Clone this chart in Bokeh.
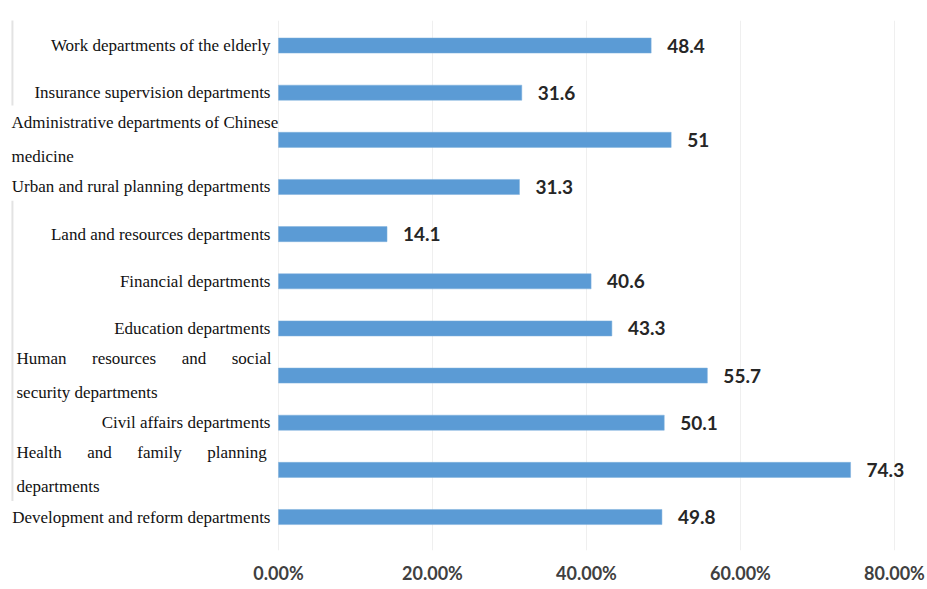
from bokeh.plotting import figure
from bokeh.models import ColumnDataSource, FixedTicker, Range1d, Title
from bokeh.core.properties import value
from bokeh.embed import file_html
from bokeh.resources import INLINE

# ---- data (top to bottom) ----
categories = [
    "Work departments of the elderly",
    "Insurance supervision departments",
    "Administrative departments of Chinese medicine",
    "Urban and rural planning departments",
    "Land and resources departments",
    "Financial departments",
    "Education departments",
    "Human resources and social security departments",
    "Civil affairs departments",
    "Health and family planning departments",
    "Development and reform departments",
]
values = [48.4, 31.6, 51.0, 31.3, 14.1, 40.6, 43.3, 55.7, 50.1, 74.3, 49.8]
value_labels = ["48.4", "31.6", "51", "31.3", "14.1", "40.6", "43.3", "55.7", "50.1", "74.3", "49.8"]
tick_values = [0, 20, 40, 60, 80]
tick_labels = ["0.00%", "20.00%", "40.00%", "60.00%", "80.00%"]

NB = "\u00a0"
gap = NB * 6
wrapped = {
    "Administrative departments of Chinese medicine": ("Administrative departments of Chinese", "medicine", -267),
    "Human resources and social security departments": (gap.join(["Human", "resources", "and", "social"]), "security departments", -262),
    "Health and family planning departments": (gap.join(["Health", "and", "family", "planning"]), "departments", -262),
}

pos = list(range(len(categories)))

bar_src = ColumnDataSource(dict(y=pos, right=values, lab=value_labels))

single = dict(y=[], text=[])
multi = dict(y=[], text=[], yoff=[], xoff=[])
for i, c in enumerate(categories):
    if c in wrapped:
        l1, l2, xo = wrapped[c]
        multi["y"] += [i, i]
        multi["text"] += [l1, l2]
        multi["yoff"] += [-17, 17]
        multi["xoff"] += [xo, xo]
    else:
        single["y"].append(i)
        single["text"].append(c)
single["x"] = [0] * len(single["y"])
multi["x"] = [0] * len(multi["y"])

W, H = 927, 589
p = figure(width=W, height=H, output_backend="svg", toolbar_location=None,
           x_range=Range1d(-36.10, 84.29), y_range=Range1d(10.71, -0.531),
           min_border_left=0, min_border_right=0, min_border_top=20, min_border_bottom=0)
p.outline_line_color = None
p.background_fill_color = "white"
p.border_fill_color = "white"

# left decorative border remnants
p.segment(x0=[-34.55, -34.55], y0=[-0.9, 3.29], x1=[-34.55, -34.55], y1=[1.27, 9.66],
          line_color="#E3E3E3", line_width=2)

p.hbar(y="y", left=0, right="right", height=0.32, source=bar_src,
       fill_color="#5B9BD5", line_color="#7FB0DD", line_width=0.5)

p.text(x="right", y="y", text="lab", source=bar_src, x_offset=16,
       text_align="left", text_baseline="middle",
       text_font=value("Lato"), text_font_style="bold",
       text_font_size="19px", text_color="#262626")

p.text(x="x", y="y", text="text", source=ColumnDataSource(single), x_offset=-8,
       text_align="right", text_baseline="middle",
       text_font=value("Liberation Serif"), text_font_size="17px", text_color="#111111")

p.text(x="x", y="y", text="text", source=ColumnDataSource(multi), x_offset="xoff", y_offset="yoff",
       text_align="left", text_baseline="middle",
       text_font=value("Liberation Serif"), text_font_size="17px", text_color="#111111")

p.yaxis.visible = False
p.ygrid.visible = False
p.xgrid.ticker = FixedTicker(ticks=tick_values)
p.xgrid.grid_line_color = "#EFEFEF"
p.xgrid.grid_line_width = 1

ax = p.xaxis[0]
ax.ticker = FixedTicker(ticks=tick_values)
ax.major_label_overrides = {t: l for t, l in zip(tick_values, tick_labels)}
ax.axis_line_color = None
ax.major_tick_line_color = None
ax.minor_tick_line_color = None
ax.major_label_standoff = 5
ax.major_label_text_font = "Lato"
ax.major_label_text_font_style = "bold"
ax.major_label_text_font_size = "18px"
ax.major_label_text_color = "#404040"

# small empty spacer below the axis to lift the tick labels
p.add_layout(Title(text=" ", text_font_size="1px", standoff=0, offset=0), "below")

open("out.html", "w").write(file_html(p, INLINE))
